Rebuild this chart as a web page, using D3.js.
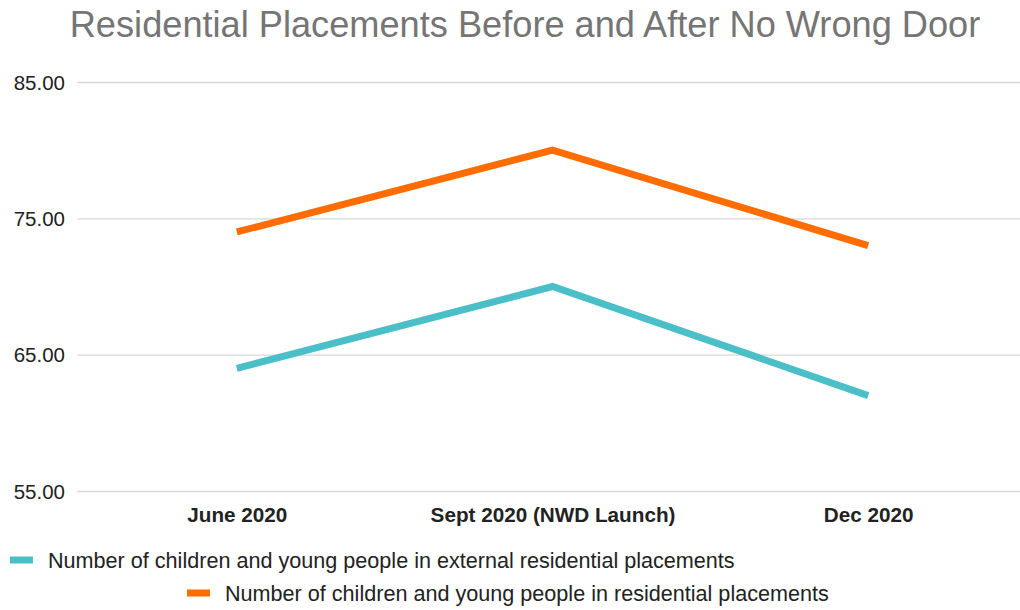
<!DOCTYPE html>
<html><head><meta charset="utf-8">
<script src="https://cdn.jsdelivr.net/npm/d3@7/dist/d3.min.js"></script>
<style>body{margin:0;background:#fff}svg{display:block}</style>
</head><body><svg id="c" width="1020" height="610"></svg>
<script>
const categories = ["June 2020", "Sept 2020 (NWD Launch)", "Dec 2020"];
const externalValues = [64, 70, 62];
const residentialValues = [74, 80, 73];
const seriesNames = ["Number of children and young people in external residential placements",
                     "Number of children and young people in residential placements"];
const yTicks = [55, 65, 75, 85];
const title = "Residential Placements Before and After No Wrong Door";

const svg = d3.select("#c");
const font = "'Liberation Sans', Arial, sans-serif";
const x = d3.scalePoint().domain(categories).range([79, 1026]).padding(0.5);
const y = d3.scaleLinear().domain([55, 85]).range([491, 82]);

svg.append("text").attr("x", 525).attr("y", 37).attr("text-anchor", "middle")
  .attr("font-family", font).attr("font-size", 36.2).attr("fill", "#757575").text(title);

const yAxis = svg.append("g").attr("transform", "translate(77,0)")
  .call(d3.axisRight(y).tickValues(yTicks).tickSize(1020 - 77).tickFormat(d3.format(".2f")));
yAxis.select(".domain").remove();
yAxis.selectAll("line").attr("stroke", "#d9d9d9").attr("stroke-width", 1.3);
yAxis.selectAll("text").attr("x", -12).attr("text-anchor", "end").attr("dy", "0.35em")
  .attr("font-family", font).attr("font-size", 20.5).attr("fill", "#222");

const xAxis = svg.append("g").attr("transform", "translate(0,491)")
  .call(d3.axisBottom(x).tickSize(0).tickPadding(16));
xAxis.select(".domain").remove();
xAxis.selectAll("text").attr("font-family", font).attr("font-size", 20.7)
  .attr("font-weight", "bold").attr("fill", "#222");

const colors = ["#4bbfc7", "#ff6d01"];
const line = d3.line().x((d, i) => x(categories[i])).y(d => y(d));
[externalValues, residentialValues].forEach((vals, k) => {
  svg.append("path").datum(vals).attr("d", line).attr("fill", "none")
    .attr("stroke", colors[k]).attr("stroke-width", 7).attr("stroke-linejoin", "miter");
});

const legendPos = [[10, 560], [187, 593]];
seriesNames.forEach((n, k) => {
  const g = svg.append("g").attr("transform", `translate(${legendPos[k][0]},${legendPos[k][1]})`);
  g.append("rect").attr("x", 0).attr("y", -3.5).attr("width", 23).attr("height", 7).attr("fill", colors[k]);
  g.append("text").attr("x", 38).attr("y", 0).attr("dy", "0.35em").attr("font-family", font)
    .attr("font-size", 21.6).attr("fill", "#222").text(n);
});
</script></body></html>
